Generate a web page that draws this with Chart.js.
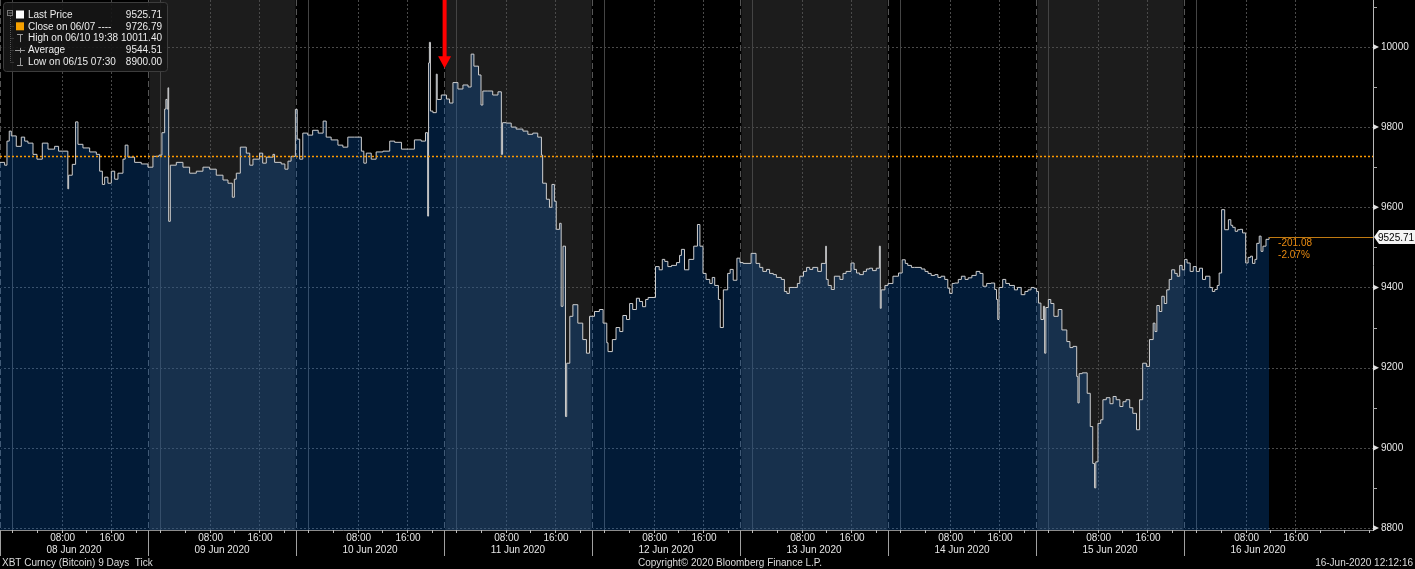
<!DOCTYPE html>
<html><head><meta charset="utf-8">
<script src="https://cdn.jsdelivr.net/npm/chart.js@4.4.0/dist/chart.umd.min.js"></script>
<style>html,body{margin:0;padding:0;background:#000;overflow:hidden}canvas{display:block}</style>
</head><body>
<canvas id="c" width="1415" height="569"></canvas>
<script>
// hours since 08 Jun 2020 00:00 (local chart time)
const hours = [
-2.0,-1.25,-0.87,-0.5,-0.17,0.64,1.45,2.0,2.53,3.35,3.99,4.86,5.78,6.86,7.5,8.21,9.0,9.13,9.72,10.26,10.64,11.45,12.54,13.62,14.16,14.6,14.97,15.5,16.05,16.6,17.13,17.94,18.3,18.75,19.83,20.91,21.99,22.8,23.78,24.26,24.7,24.9,25.1,25.24,25.35,25.62,26.59,27.67,28.75,29.83,30.91,31.99,33.07,34.16,34.97,35.67,36.0,36.32,36.97,37.94,38.5,39.02,40.1,40.6,41.18,42.26,
42.53,43.6,44.2,44.7,45.2,45.9,46.2,46.6,47.1,47.9,48.7,49.6,50.4,50.9,51.7,52.8,53.6,54.4,55.5,56.6,57.0,57.4,58.2,59.0,60.1,61.2,62.0,63.1,64.2,65.2,66.3,67.0,67.35,67.5,67.63,67.8,68.2,68.75,68.9,69.56,70.4,70.9,71.45,72.26,73.07,73.9,74.4,74.85,75.6,76.0,76.3,77.1,77.9,78.75,79.3,79.5,80.1,80.9,81.7,82.8,83.6,84.4,85.2,85.8,86.0,86.6,87.1,87.5,87.9,88.2,88.75,89.0,89.3,89.7,89.9,90.4,90.9,91.7,92.5,93.1,93.6,
94.4,95.2,95.8,96.4,96.6,97.3,97.9,98.5,99.0,99.6,100.1,100.6,101.2,101.7,102.2,102.7,103.1,103.9,104.3,104.9,105.4,105.8,106.3,106.9,107.7,108.2,108.5,109.0,109.7,110.5,111.1,111.5,112.0,112.5,113.1,113.5,113.9,114.5,114.8,115.3,116.0,116.4,116.9,117.5,118.0,118.5,119.3,119.8,120.6,121.2,121.7,122.3,122.8,123.4,123.9,124.7,125.2,125.6,126.0,126.9,127.3,127.7,128.3,128.8,129.3,129.8,130.6,131.2,131.9,132.0,
132.3,132.8,133.3,134.2,134.7,135.2,136.0,136.5,136.9,137.4,138.0,138.5,139.0,139.5,140.1,140.6,140.75,140.9,141.5,142.0,142.8,143.7,144.3,144.8,145.2,145.8,146.3,147.4,148.0,148.5,149.0,149.6,150.1,150.6,151.2,151.7,152.0,152.4,152.8,153.4,153.9,154.5,155.0,155.6,156.3,156.9,157.4,158.0,158.7,159.3,159.6,159.8,160.0,160.6,161.1,161.7,162.5,163.0,163.6,164.2,164.7,165.2,165.7,166.1,166.4,166.8,167.2,167.4,167.6,168.0,168.4,168.9,169.6,170.2,171.0,171.5,172.0,172.6,172.8,173.0,173.5,174.3,174.8,175.2,175.5,175.7,176.05,176.5,176.85,
177.4,178.0,178.5,179.0,179.6,180.1,180.6,181.2,181.7,182.3,182.8,183.3,183.9,184.4,185.0,185.3,185.6,186.0,186.4,186.8,187.2,187.6,188.0,188.5,188.9,189.3,189.7,190.1,190.5,191.0,191.5,192.0,192.5,193.0,193.5,194.2,194.6,195.0,195.4,195.7,196.1,196.6,197.2,197.6,197.9,198.3,198.7,199.1,199.5,200.0,200.4,200.8,201.1,201.5,201.8,202.2,202.5,202.8,203.3,203.8
];
const prices = [
9712,9705,9765,9790,9778,9752,9775,9765,9760,9732,9720,9760,9745,9752,9740,9740,9646,9680,9707,9813,9757,9748,9738,9732,9690,9657,9675,9660,9690,9670,9685,9720,9755,9725,9712,9708,9700,9727,9730,9786,9845,9869,9845,9898,9565,9705,9712,9700,9685,9690,9700,9695,9680,9668,9660,9625,9670,9685,9750,9735,9705,9720,9735,9710,9725,9732,
9712,9708,9695,9715,9727,9844,9770,9720,9785,9780,9792,9785,9815,9775,9768,9755,9750,9775,9775,9740,9710,9735,9720,9738,9740,9765,9762,9745,9745,9768,9765,9786,9578,9960,10011.4,9840,9836,9932,9869,9880,9870,9860,9911,9895,9905,9900,9982,9952,9930,9855,9890,9890,9880,9888,9732,9811,9810,9800,9795,9790,9782,9785,9775,9730,9660,9620,9600,9657,9615,9545,9560,9353,9503,9078,9211,9328,9357,9311,9270,9236,9328,
9340,9345,9311,9262,9240,9270,9300,9290,9330,9320,9360,9345,9373,9365,9352,9370,9375,9375,9452,9444,9470,9465,9452,9455,9462,9480,9495,9444,9470,9503,9557,9503,9435,9420,9410,9425,9405,9370,9300,9394,9435,9445,9418,9473,9462,9460,9460,9485,9460,9450,9440,9445,9435,9432,9425,9420,9390,9385,9400,9400,9410,9428,9440,9450,9445,9450,9440,9460,9503,9420,
9405,9395,9428,9420,9435,9440,9461,9445,9436,9432,9440,9446,9448,9442,9448,9503,9348,9394,9405,9410,9428,9436,9469,9460,9455,9450,9450,9446,9440,9435,9430,9432,9425,9428,9420,9398,9385,9410,9411,9420,9428,9420,9424,9430,9440,9435,9403,9410,9411,9395,9370,9320,9400,9420,9410,9405,9394,9400,9382,9390,9394,9400,9398,9390,9361,9320,9353,9236,9350,9370,9360,9328,9345,9294,9265,9250,9253,9178,9112,9185,9187,9136,9053,8961,8900,8965,9061,9070,9120,
9125,9110,9128,9120,9103,9115,9120,9100,9086,9045,9120,9211,9203,9270,9311,9290,9355,9340,9378,9360,9394,9420,9444,9435,9428,9455,9444,9470,9461,9440,9452,9440,9448,9420,9428,9400,9390,9395,9405,9436,9594,9544,9569,9555,9550,9540,9544,9545,9536,9461,9475,9478,9460,9470,9510,9528,9490,9503,9520,9525.71
];
const closePrev = 9726.79;
const lastPrice = 9525.71;
const netChange = '-201.08';
const pctChange = '-2.07%';
// session separators (hours), alternating shading
const sessionBreaks = [-2, 22, 46, 70, 94, 118, 142, 166, 190];
const shadedSessions = [1, 3, 5, 7];
const dayLabels = ['08 Jun 2020','09 Jun 2020','10 Jun 2020','11 Jun 2020','12 Jun 2020','13 Jun 2020','14 Jun 2020','15 Jun 2020','16 Jun 2020'];
const hourLabels = ['08:00', '16:00'];
const hourLabelOffsets = [8, 16];
const yMajorTicks = [8800, 9000, 9200, 9400, 9600, 9800, 10000];
const yMinorTicks = [8900, 9100, 9300, 9500, 9700, 9900, 10100];
const legendRows = [
  {label: 'Last Price', value: '9525.71', icon: 'white'},
  {label: 'Close on 06/07 ----', value: '9726.79', icon: 'orange'},
  {label: 'High on 06/10 19:38', value: '10011.40', icon: 'high'},
  {label: 'Average', value: '9544.51', icon: 'avg'},
  {label: 'Low on 06/15 07:30', value: '8900.00', icon: 'low'}
];
const arrowHour = 70.1, arrowTipValue = 9947;
const footerLeft = 'XBT Curncy (Bitcoin) 9 Days  Tick';
const footerMid = 'Copyright\u00A9 2020 Bloomberg Finance L.P.';
const footerRight = '16-Jun-2020 12:12:16';

const FONT = '10px "Liberation Sans", Arial, sans-serif';

function hline(ctx, x0, x1, y) { ctx.beginPath(); ctx.moveTo(x0, y); ctx.lineTo(x1, y); ctx.stroke(); }
function vline(ctx, x, y0, y1) { ctx.beginPath(); ctx.moveTo(x, y0); ctx.lineTo(x, y1); ctx.stroke(); }

const bbPlugin = {
  id: 'bb',
  beforeDatasetsDraw(chart) {
    const {ctx, chartArea: a, scales: {x, y}} = chart;
    ctx.save();
    // session bands
    sessionBreaks.forEach((b, i) => {
      const x0 = Math.max(a.left, x.getPixelForValue(b));
      const x1 = i + 1 < sessionBreaks.length ? x.getPixelForValue(sessionBreaks[i + 1]) : a.right;
      ctx.fillStyle = shadedSessions.includes(i) ? '#1c1c1c' : '#000';
      ctx.fillRect(x0, a.top, Math.min(x1, a.right) - x0, a.bottom - a.top);
    });
    ctx.lineWidth = 1;
    // horizontal dotted grid
    ctx.strokeStyle = '#4a4a4a';
    ctx.setLineDash([2, 2]);
    yMajorTicks.forEach(v => { const py = Math.round(y.getPixelForValue(v)) + 0.5; hline(ctx, a.left, a.right, py); });
    // vertical dotted at 08:00 & 16:00
    for (let d = 0; d < dayLabels.length; d++) {
      hourLabelOffsets.forEach(o => {
        const px = Math.round(x.getPixelForValue(d * 24 + o)) + 0.5;
        if (px < a.right) vline(ctx, px, a.top, a.bottom);
      });
    }
    // solid midnight lines
    ctx.setLineDash([]);
    ctx.strokeStyle = '#444';
    for (let d = 0; d < dayLabels.length; d++) {
      const px = Math.round(x.getPixelForValue(d * 24)) + 0.5;
      vline(ctx, px, a.top, a.bottom);
    }
    // dashed session separators
    sessionBreaks.forEach(b => {
      const px = Math.round(x.getPixelForValue(b)) + 0.5;
      ctx.strokeStyle = '#000'; ctx.lineWidth = 2; ctx.setLineDash([]);
      vline(ctx, px, a.top, a.bottom);
      ctx.strokeStyle = '#555'; ctx.lineWidth = 1; ctx.setLineDash([6, 3]);
      vline(ctx, px, a.top, a.bottom);
    });
    ctx.restore();
  },
  afterDatasetsDraw(chart) {
    const {ctx, chartArea: a, scales: {x, y}} = chart;
    ctx.save();
    // close line (orange dotted)
    const cy = Math.round(y.getPixelForValue(closePrev)) + 0.5;
    ctx.strokeStyle = '#ff9a00'; ctx.lineWidth = 1.5; ctx.setLineDash([2, 2]);
    hline(ctx, a.left, a.right, cy);
    ctx.setLineDash([]);
    // last price line
    const ly = Math.round(y.getPixelForValue(lastPrice)) + 0.5;
    const lx = x.getPixelForValue(hours[hours.length - 1]);
    ctx.strokeStyle = '#c07a12'; ctx.lineWidth = 1;
    hline(ctx, lx, a.right, ly);
    // change text
    ctx.font = FONT; ctx.fillStyle = '#e88a10'; ctx.textBaseline = 'middle'; ctx.textAlign = 'left';
    ctx.fillText(netChange, lx + 9, ly + 6);
    ctx.fillText(pctChange, lx + 9, ly + 18);
    // red arrow
    const ax = x.getPixelForValue(arrowHour);
    const ty = y.getPixelForValue(arrowTipValue);
    ctx.fillStyle = '#ff0000';
    ctx.fillRect(ax - 2, a.top, 4, ty - 11 - a.top);
    ctx.beginPath(); ctx.moveTo(ax - 6.5, ty - 12); ctx.lineTo(ax + 6.5, ty - 12); ctx.lineTo(ax, ty); ctx.closePath(); ctx.fill();
    ctx.restore();
  },
  afterDraw(chart) {
    const {ctx, chartArea: a, scales: {x, y}} = chart;
    ctx.save();
    ctx.font = FONT; ctx.lineWidth = 1;
    // y axis tick markers
    ctx.fillStyle = '#e0e0e0';
    yMajorTicks.forEach(v => {
      const py = y.getPixelForValue(v);
      ctx.beginPath(); ctx.moveTo(a.right, py - 3); ctx.lineTo(a.right + 6, py); ctx.lineTo(a.right, py + 3); ctx.closePath(); ctx.fill();
    });
    ctx.strokeStyle = '#aaa';
    yMinorTicks.forEach(v => { const py = Math.round(y.getPixelForValue(v)) + 0.5; hline(ctx, a.right, a.right + 4, py); });
    // last price tag
    const ly = y.getPixelForValue(lastPrice);
    ctx.fillStyle = '#f4f4f4';
    ctx.beginPath(); ctx.moveTo(a.right + 1, ly); ctx.lineTo(a.right + 6, ly - 7); ctx.lineTo(1415, ly - 7); ctx.lineTo(1415, ly + 7); ctx.lineTo(a.right + 6, ly + 7); ctx.closePath(); ctx.fill();
    ctx.fillStyle = '#000'; ctx.textBaseline = 'middle'; ctx.textAlign = 'left';
    ctx.fillText(lastPrice.toFixed(2), a.right + 5, ly + 1);
    // x axis line & ticks
    const by = a.bottom + 0.5;
    ctx.strokeStyle = '#8c8c8c';
    hline(ctx, a.left, a.right, by);
    ctx.strokeStyle = '#bbb';
    for (let h = 0; h <= 220; h += 4) {
      const px = Math.round(x.getPixelForValue(h)) + 0.5;
      if (px < a.right) vline(ctx, px, a.bottom, a.bottom + 3);
    }
    sessionBreaks.forEach(b => {
      const px = Math.round(x.getPixelForValue(b)) + 0.5;
      ctx.strokeStyle = '#a0a0a0';
      vline(ctx, px, a.bottom, a.bottom + 26);
    });
    // hour & day labels
    ctx.fillStyle = '#e6e6e6'; ctx.textAlign = 'center'; ctx.textBaseline = 'middle';
    dayLabels.forEach((lab, d) => {
      hourLabels.forEach((hl, j) => {
        const px = x.getPixelForValue(d * 24 + hourLabelOffsets[j]);
        if (px < a.right) ctx.fillText(hl, px + 1, a.bottom + 8);
      });
      const mid = (sessionBreaks[d] + (d + 1 < sessionBreaks.length ? sessionBreaks[d + 1] : sessionBreaks[d] + 24)) / 2;
      ctx.fillText(lab, x.getPixelForValue(mid), a.bottom + 20);
    });
    // footer
    ctx.fillStyle = '#dcdcdc';
    ctx.textAlign = 'left'; ctx.fillText(footerLeft, 2, 563);
    ctx.textAlign = 'center'; ctx.fillText(footerMid, 730, 563);
    ctx.textAlign = 'right'; ctx.fillText(footerRight, 1413, 563);
    // legend box
    ctx.fillStyle = 'rgba(22,22,22,0.92)'; ctx.strokeStyle = '#3c3c3c';
    ctx.beginPath(); ctx.roundRect(3.5, 2.5, 164, 69, 3); ctx.fill(); ctx.stroke();
    // tree
    ctx.strokeStyle = '#777';
    ctx.strokeRect(7.5, 10.5, 5, 5); hline(ctx, 8.5, 12, 13);
    ctx.strokeStyle = '#555'; ctx.setLineDash([1, 1]);
    vline(ctx, 10.5, 16, 62);
    [26, 38, 50, 62].forEach(ry => hline(ctx, 10.5, 14, ry + 0.5));
    ctx.setLineDash([]);
    legendRows.forEach((r, i) => {
      const ry = 14.5 + i * 11.8;
      if (r.icon === 'white') { ctx.fillStyle = '#fff'; ctx.fillRect(16, ry - 4, 8, 8); }
      else if (r.icon === 'orange') { ctx.fillStyle = '#f5a000'; ctx.fillRect(16, ry - 4, 8, 8); }
      else {
        ctx.strokeStyle = '#9a9a9a';
        if (r.icon === 'high') { hline(ctx, 17, 23, Math.round(ry) - 3.5); vline(ctx, 20.5, ry - 4, ry + 4); }
        if (r.icon === 'avg') { hline(ctx, 15, 25, Math.round(ry) + 0.5); vline(ctx, 20.5, ry - 2, ry + 3); }
        if (r.icon === 'low') { vline(ctx, 20.5, ry - 4, ry + 4); hline(ctx, 17, 23, Math.round(ry) + 3.5); }
      }
      ctx.fillStyle = '#ececec'; ctx.textBaseline = 'middle';
      ctx.textAlign = 'left'; ctx.fillText(r.label, 28, ry + 0.5);
      ctx.textAlign = 'right'; ctx.fillText(r.value, 162, ry + 0.5);
    });
    ctx.restore();
  }
};

new Chart(document.getElementById('c').getContext('2d'), {
  type: 'line',
  data: {
    datasets: [{
      data: hours.map((h, i) => ({x: h, y: prices[i]})),
      borderColor: '#cfcfcf', borderWidth: 1,
      backgroundColor: 'rgba(8,108,220,0.25)',
      fill: 'start', stepped: true, pointRadius: 0, tension: 0
    }]
  },
  options: {
    responsive: false, animation: false, devicePixelRatio: 1,
    layout: {padding: {left: 0, top: 0, right: 0, bottom: 39}},
    plugins: {legend: {display: false}, tooltip: {enabled: false}},
    scales: {
      x: {type: 'linear', min: -2, max: 220.65, display: false},
      y: {
        position: 'right', min: 8795, max: 10117,
        afterBuildTicks: s => { s.ticks = yMajorTicks.map(v => ({value: v})); },
        afterFit: s => { s.width = 42; s.paddingTop = 0; s.paddingBottom = 0; },
        grid: {display: false, drawTicks: false},
        border: {display: true, color: '#b8b8b8'},
        ticks: {color: '#e8e8e8', padding: 8, font: {size: 10, family: '"Liberation Sans", Arial, sans-serif'}, callback: v => String(v)}
      }
    }
  },
  plugins: [bbPlugin]
});
</script>
</body></html>
